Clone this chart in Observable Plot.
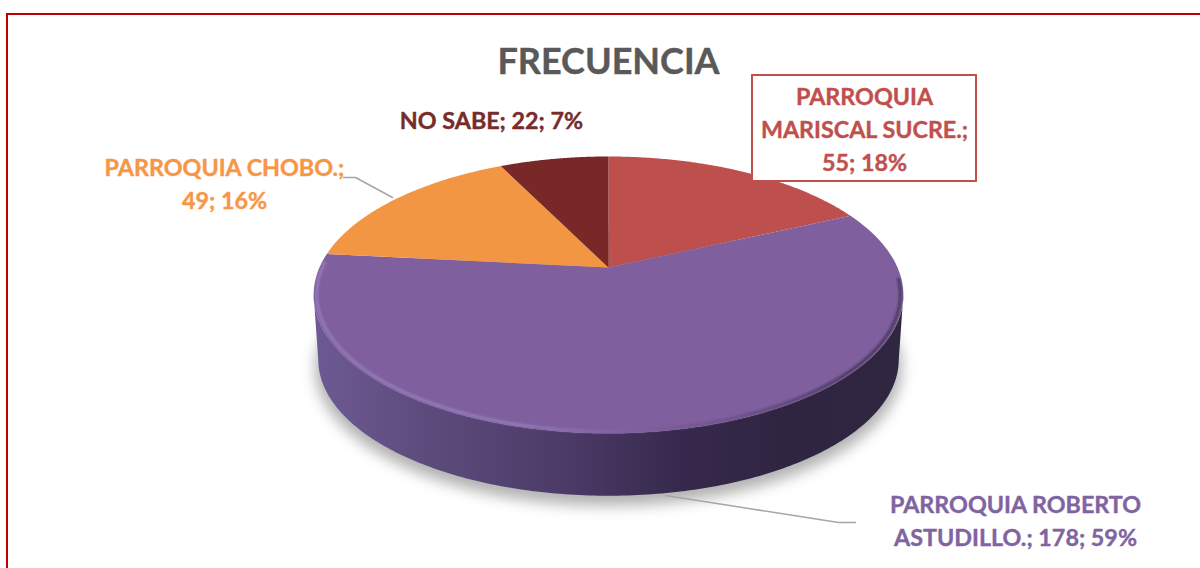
<!DOCTYPE html>
<html>
<head>
<meta charset="utf-8">
<script src="https://cdn.jsdelivr.net/npm/d3@7"></script>
<script src="https://cdn.jsdelivr.net/npm/@observablehq/plot@0.6"></script>
<style>
html,body{margin:0;padding:0;background:#fff;}
svg{display:block;}
</style>
</head>
<body>
<div id="chart"></div>
<script>
// Data
const title = "FRECUENCIA";
const categories = ["PARROQUIA\nMARISCAL SUCRE.", "PARROQUIA ROBERTO\nASTUDILLO.", "PARROQUIA CHOBO.", "NO SABE"];
const frecuencia = [55, 178, 49, 22];
const labelBreaks = ["\n", " ", "\n", " "];

// Styling
const sliceColors = ["#bd4f4c", "#7f5f9d", "#f39643", "#772827"];
const labelColors = ["#c0504d", "#8064a2", "#f79646", "#772c2a"];
const labelAnchors = [[864, 127], [1015, 518], [224, 181], [491, 118]];

// Pie projection: a circle seen in perspective
const cx = 608, cy = 267, A = 289, B = 133, k = 0.198, depth = 65.5;
const project = (a, r = 1, dy = 0) => {
  const u = r * Math.sin(a), v = r * Math.cos(a), d = 1 + k * v;
  return {x: cx + A * u / d, y: cy - B * v / d + dy};
};
const rad = d => d * Math.PI / 180;
const range = (a0, a1, n = 200) => d3.range(n + 1).map(i => a0 + (a1 - a0) * i / n);

const total = d3.sum(frecuencia);
const arcs = d3.pie().sort(null)(frecuencia);
const slices = arcs.flatMap((arc, i) => {
  const rim = range(arc.startAngle, arc.endAngle, 120).map(a => project(a));
  return [{x: cx, y: cy}, ...rim].map(p => ({...p, name: categories[i]}));
});

const widest = Math.acos(-k);
const frontAngles = range(widest, 2 * Math.PI - widest);
const side = [
  ...frontAngles.map(a => project(a)),
  ...frontAngles.slice().reverse().map(a => project(a, 0.985, depth))
];
const shadow = range(0, 2 * Math.PI, 240).map(a => project(a, 0.995, depth + 8));
const bevel = range(rad(95), rad(272), 240).map(a => project(a, 0.99));

const labels = categories.map((c, i) => ({
  text: `${c};${labelBreaks[i]}${frecuencia[i]}; ${Math.round(frecuencia[i] / total * 100)}%`,
  x: labelAnchors[i][0], y: labelAnchors[i][1], color: labelColors[i]
}));

const leaders = [
  [{x: 343, y: 177}, {x: 355, y: 177}, {x: 392, y: 197}],
  [{x: 665, y: 495}, {x: 838, y: 522}, {x: 855, y: 522}]
].flatMap((l, i) => l.map(p => ({...p, id: i})));

const defs = () => {
  const d = document.createElementNS("http://www.w3.org/2000/svg", "defs");
  d.innerHTML = `
  <linearGradient id="sideGrad" gradientUnits="userSpaceOnUse" x1="313" x2="903" y1="0" y2="0">
    <stop offset="0" stop-color="#6d5a93"/><stop offset="0.18" stop-color="#5e4c7e"/>
    <stop offset="0.42" stop-color="#4c3b68"/><stop offset="0.62" stop-color="#37294d"/>
    <stop offset="0.8" stop-color="#2f2540"/><stop offset="1" stop-color="#2f2640"/>
  </linearGradient>
  <linearGradient id="bevelGrad" gradientUnits="userSpaceOnUse" x1="313" x2="903" y1="0" y2="0">
    <stop offset="0" stop-color="#947abb"/><stop offset="0.35" stop-color="#947abb"/>
    <stop offset="0.55" stop-color="#7f5f9d"/><stop offset="0.72" stop-color="#6a5188"/>
    <stop offset="0.9" stop-color="#4a3a63"/><stop offset="1" stop-color="#4a3a63"/>
  </linearGradient>`;
  return d;
};

const blur = (px) => (index, scales, values, dims, context, next) => {
  const g = next(index, scales, values, dims, context);
  g.style.filter = `blur(${px}px)`;
  return g;
};

const chart = Plot.plot({
  width: 1200, height: 568, margin: 0,
  style: {background: "#fff"},
  x: {domain: [0, 1200], range: [0, 1200], axis: null},
  y: {domain: [0, 568], range: [0, 568], axis: null},
  color: {domain: categories, range: sliceColors},
  marks: [
    defs,
    Plot.line(shadow, {x: "x", y: "y", curve: "linear-closed", fill: "#000", fillOpacity: 0.3, render: blur(7)}),
    Plot.line(side, {x: "x", y: "y", curve: "linear-closed", fill: "url(#sideGrad)"}),
    Plot.line(slices, {x: "x", y: "y", curve: "linear-closed", fill: "name"}),
    Plot.line(bevel, {x: "x", y: "y", stroke: "url(#bevelGrad)", strokeWidth: 3, render: blur(1)}),
    Plot.line(leaders, {x: "x", y: "y", z: "id", stroke: "#a6a6a6", strokeWidth: 1.5}),
    Plot.rect([{x1: 752, x2: 976, y1: 75, y2: 181}], {x1: "x1", x2: "x2", y1: "y1", y2: "y2", fill: "#fff", stroke: "#c0504d", strokeWidth: 2}),
    Plot.text(labels, {x: "x", y: "y", text: "text", fill: "color", stroke: "color", strokeWidth: 0.4, fontFamily: "Lato", fontWeight: 700, fontSize: 23.3, lineHeight: 1.43, textAnchor: "middle"}),
    Plot.text([title], {x: [608], y: [62], text: d => d, fill: "#595959", stroke: "#595959", strokeWidth: 0.4, fontFamily: "Lato", fontWeight: 700, fontSize: 36, textAnchor: "middle"}),
    Plot.rect([{x1: 7, x2: 1210, y1: 14, y2: 600}], {x1: "x1", x2: "x2", y1: "y1", y2: "y2", fill: "none", stroke: "#c00000", strokeWidth: 2})
  ]
});
document.getElementById("chart").append(chart);
</script>
</body>
</html>
